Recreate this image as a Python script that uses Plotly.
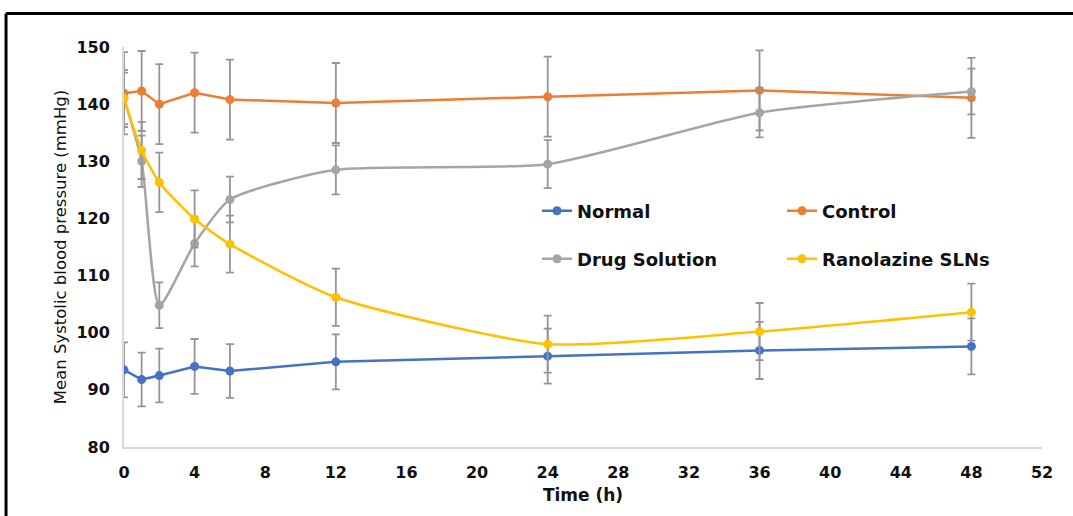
import plotly.graph_objects as go

# ---- data ----
time_h = [0, 1, 2, 4, 6, 12, 24, 36, 48]

normal = [93.5, 91.8, 92.5, 94.1, 93.3, 94.9, 95.9, 96.9, 97.6]
normal_err = [4.8, 4.7, 4.7, 4.8, 4.7, 4.8, 4.8, 5.0, 4.9]

control = [141.9, 142.3, 140.0, 142.0, 140.8, 140.2, 141.3, 142.4, 141.1]
control_err = [7.2, 7.0, 7.0, 7.0, 7.0, 7.0, 7.0, 7.0, 7.0]

drug_solution = [141.0, 130.0, 104.8, 115.6, 123.3, 128.5, 129.5, 138.5, 142.2]
drug_solution_err = [4.5, 4.5, 4.0, 4.0, 4.0, 4.3, 4.2, 4.3, 4.0]

ranolazine_slns = [141.0, 131.9, 126.3, 119.9, 115.5, 106.2, 98.0, 100.2, 103.6]
ranolazine_slns_err = [5.0, 5.0, 5.2, 5.0, 5.0, 5.0, 5.0, 5.0, 5.0]

series_names = ["Normal", "Control", "Drug Solution", "Ranolazine SLNs"]
series_colors = ["#4472C4", "#ED7D31", "#A5A5A5", "#FFC000"]
series_values = [normal, control, drug_solution, ranolazine_slns]
series_errors = [normal_err, control_err, drug_solution_err, ranolazine_slns_err]
series_shapes = ["linear", "linear", "spline", "spline"]

x_ticks = [0, 4, 8, 12, 16, 20, 24, 28, 32, 36, 40, 44, 48, 52]
y_ticks = [80, 90, 100, 110, 120, 130, 140, 150]

FONT = "DejaVu Sans"

fig = go.Figure()
legend_ids = ["legend", "legend2", "legend3", "legend4"]
for name, color, vals, errs, shape, lid in zip(series_names, series_colors, series_values,
                                               series_errors, series_shapes, legend_ids):
    fig.add_trace(go.Scatter(
        x=time_h, y=vals, name=name, mode="lines+markers",
        line=dict(color=color, width=2.5, shape=shape, smoothing=0.6),
        marker=dict(color=color, size=9),
        error_y=dict(type="data", array=errs, visible=True, color="#959595",
                     thickness=1.8, width=4),
        legend=lid,
    ))

legend_common = dict(
    orientation="h", bgcolor="rgba(0,0,0,0)", borderwidth=0,
    font=dict(family=FONT, size=18, color="#111111", weight="bold"),
    xanchor="left", yanchor="middle",
)

fig.update_layout(
    width=1073, height=516,
    margin=dict(l=124, r=31, t=47, b=69),
    paper_bgcolor="white", plot_bgcolor="white",
    showlegend=True,
    legend=dict(x=0.4499, y=0.59, **legend_common),
    legend2=dict(x=0.7168, y=0.59, **legend_common),
    legend3=dict(x=0.4499, y=0.47, **legend_common),
    legend4=dict(x=0.7168, y=0.47, **legend_common),
    xaxis=dict(
        range=[0, 52], tickmode="array", tickvals=x_ticks, automargin=False,
        showgrid=False, zeroline=False, showline=True, linecolor="#d9d9d9", linewidth=2,
        ticks="", ticklabelstandoff=10,
        tickfont=dict(family=FONT, size=16, color="#111111", weight="bold"),
        title=dict(text="Time (h)", standoff=8,
                   font=dict(family=FONT, size=17, color="#111111", weight="bold")),
    ),
    yaxis=dict(
        range=[80, 150], tickmode="array", tickvals=y_ticks, automargin=False,
        showgrid=False, zeroline=False, showline=True, linecolor="#d9d9d9", linewidth=2,
        ticks="", ticklabelstandoff=9,
        tickfont=dict(family=FONT, size=16, color="#111111", weight="bold"),
        title=dict(text="Mean Systolic blood pressure (mmHg)", standoff=6,
                   font=dict(family=FONT, size=16.5, color="#111111")),
    ),
    shapes=[
        dict(type="line", xref="paper", yref="paper", x0=-0.1285, x1=1.04,
             y0=1.08375, y1=1.08375, line=dict(color="black", width=3)),
        dict(type="line", xref="paper", yref="paper", x0=-0.1285, x1=-0.1285,
             y0=1.08375, y1=-0.18, line=dict(color="black", width=3)),
    ],
)

fig.write_html("out.html", config={"displayModeBar": False},
               post_script="document.body.style.margin='0';document.body.style.padding='0';")
